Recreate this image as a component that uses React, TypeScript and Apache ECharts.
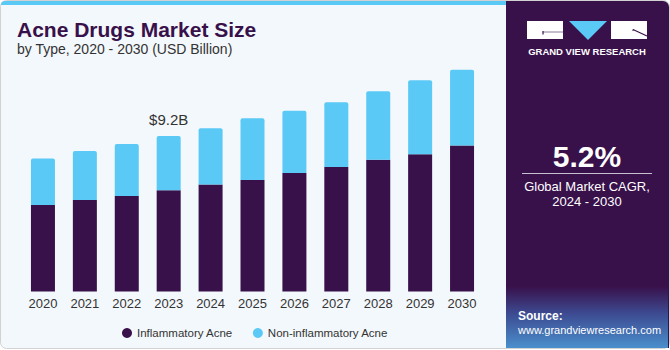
import React, { useEffect, useRef } from "react";
import * as echarts from "echarts";

const years = ["2020", "2021", "2022", "2023", "2024", "2025", "2026", "2027", "2028", "2029", "2030"];
const inflammatory = [5.12, 5.41, 5.65, 5.99, 6.34, 6.6, 7.01, 7.37, 7.8, 8.12, 8.65];
const nonInflammatory = [2.76, 2.9, 3.08, 3.21, 3.32, 3.65, 3.69, 3.84, 4.06, 4.38, 4.47];
const seriesNames = ["Inflammatory Acne", "Non-inflammatory Acne"];
const annotatedYear = "2023";
const annotationText = "$9.2B";
const titleText = "Acne Drugs Market Size";
const subtitleText = "by Type, 2020 - 2030 (USD Billion)";
const cagrValue = "5.2%";
const cagrLabel = ["Global Market CAGR,", "2024 - 2030"];

const DARK = "#38104a";
const BLUE = "#5bc9f6";
const FONT = "Liberation Sans, Arial, sans-serif";

export default function App() {
  const ref = useRef<HTMLDivElement>(null);
  useEffect(() => {
    document.body.style.margin = "0";
    const chart = echarts.init(ref.current!, null, { renderer: "svg" });
    const option: any = {
      animation: false,
      textStyle: { fontFamily: FONT },
      grid: { left: 22, width: 461, top: 55, bottom: 58.5 },
      xAxis: {
        type: "category",
        data: years,
        axisLine: { show: false },
        axisTick: { show: false },
        axisLabel: { color: "#333", fontSize: 13, margin: 5, fontFamily: FONT },
      },
      yAxis: { type: "value", min: 0, max: 14, show: false, splitLine: { show: false } },
      legend: {
        left: 117,
        top: 322,
        icon: "circle",
        itemWidth: 10,
        itemHeight: 10,
        itemGap: 20,
        textStyle: { color: "#333", fontSize: 11.5, fontFamily: FONT },
        data: seriesNames,
      },
      series: [
        {
          name: seriesNames[0],
          type: "bar",
          stack: "total",
          barWidth: 24,
          itemStyle: { color: DARK },
          data: inflammatory,
        },
        {
          name: seriesNames[1],
          type: "bar",
          stack: "total",
          barWidth: 24,
          itemStyle: { color: BLUE, borderRadius: [2, 2, 0, 0] },
          data: nonInflammatory.map((v, i) =>
            years[i] === annotatedYear
              ? {
                  value: v,
                  label: {
                    show: true,
                    position: "top",
                    distance: 9,
                    formatter: annotationText,
                    color: "#333",
                    fontSize: 15,
                    fontFamily: FONT,
                  },
                }
              : v
          ),
        },
      ],
      graphic: [
        {
          type: "rect",
          z: -10,
          shape: { x: 0.5, y: 0.5, width: 669, height: 348, r: 6 },
          style: { fill: "#f3f8fc", stroke: "#d2d2d2", lineWidth: 1 },
        },
        {
          type: "rect",
          z: -9,
          shape: { x: 1, y: 1, width: 506, height: 4, r: [5, 0, 0, 0] },
          style: { fill: BLUE },
        },
        {
          type: "rect",
          z: -9,
          shape: { x: 506, y: 1, width: 163, height: 347, r: [0, 6, 0, 0] },
          style: { fill: DARK },
        },
        {
          type: "rect",
          z: -8,
          shape: { x: 506, y: 286, width: 162, height: 62 },
          style: {
            fill: {
              type: "linear",
              x: 0,
              y: 0,
              x2: 0,
              y2: 1,
              colorStops: [
                { offset: 0, color: DARK },
                { offset: 0.45, color: "#3d4b92" },
                { offset: 1, color: "#4a8fcc" },
              ],
            },
          },
        },
        // logo
        { type: "rect", shape: { x: 527, y: 21, width: 36, height: 18 }, style: { fill: "#ffffff" } },
        { type: "line", shape: { x1: 543, y1: 32, x2: 563, y2: 32 }, style: { stroke: "#8a7a96", lineWidth: 1 } },
        { type: "line", shape: { x1: 543, y1: 31, x2: 543, y2: 34.5 }, style: { stroke: DARK, lineWidth: 1.2 } },
        {
          type: "polygon",
          shape: { points: [[569, 21], [607, 21], [588, 40]] },
          style: { fill: BLUE },
        },
        { type: "rect", shape: { x: 611, y: 21, width: 36, height: 18 }, style: { fill: "#ffffff" } },
        { type: "line", shape: { x1: 633, y1: 29.5, x2: 647, y2: 36 }, style: { stroke: DARK, lineWidth: 1.2 } },
        { type: "line", shape: { x1: 633, y1: 29.5, x2: 633, y2: 31 }, style: { stroke: DARK, lineWidth: 1 } },
        {
          type: "text",
          style: {
            x: 587,
            y: 51,
            text: "GRAND VIEW RESEARCH",
            fill: "#ffffff",
            font: `bold 9.5px ${FONT}`,
            align: "center",
            verticalAlign: "middle",
          },
        },
        // title
        {
          type: "text",
          style: {
            x: 17,
            y: 29,
            text: titleText,
            fill: DARK,
            font: `bold 21px ${FONT}`,
            verticalAlign: "middle",
          },
        },
        {
          type: "text",
          style: {
            x: 17,
            y: 49,
            text: subtitleText,
            fill: "#333",
            font: `14px ${FONT}`,
            verticalAlign: "middle",
          },
        },
        // CAGR panel
        {
          type: "text",
          style: {
            x: 587,
            y: 156,
            text: cagrValue,
            fill: "#ffffff",
            font: `bold 30px ${FONT}`,
            align: "center",
            verticalAlign: "middle",
          },
        },
        { type: "line", shape: { x1: 522, y1: 173.5, x2: 652, y2: 173.5 }, style: { stroke: "#c8bfd0", lineWidth: 1 } },
        {
          type: "text",
          style: {
            x: 587,
            y: 186,
            text: cagrLabel[0],
            fill: "#ffffff",
            font: `13px ${FONT}`,
            align: "center",
            verticalAlign: "middle",
          },
        },
        {
          type: "text",
          style: {
            x: 587,
            y: 201,
            text: cagrLabel[1],
            fill: "#ffffff",
            font: `13px ${FONT}`,
            align: "center",
            verticalAlign: "middle",
          },
        },
        // source
        {
          type: "text",
          style: {
            x: 518,
            y: 316,
            text: "Source:",
            fill: "#ffffff",
            font: `bold 12px ${FONT}`,
            verticalAlign: "middle",
          },
        },
        {
          type: "text",
          style: {
            x: 518,
            y: 330,
            text: "www.grandviewresearch.com",
            fill: "#ffffff",
            font: `11px ${FONT}`,
            verticalAlign: "middle",
          },
        },
      ],
    };
    chart.setOption(option);
    return () => chart.dispose();
  }, []);
  return <div ref={ref} style={{ width: 670, height: 350, position: "absolute", left: 0, top: 0 }} />;
}
